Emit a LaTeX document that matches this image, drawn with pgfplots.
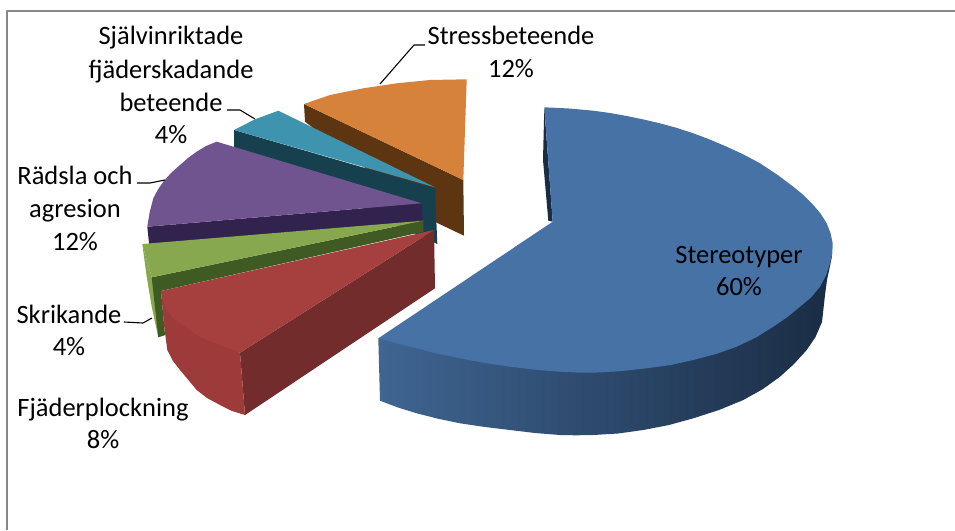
\documentclass[border=0pt]{standalone}
\usepackage{fontspec}
\setmainfont{Carlito}
\usepackage{pgfplots}
\pgfplotsset{compat=1.18}
\definecolor{blueT}{HTML}{4672A6}
\definecolor{blueL}{HTML}{3F6592}
\definecolor{blueM}{HTML}{2B466B}
\definecolor{blueR}{HTML}{1A2C44}
\definecolor{redT}{HTML}{A5403F}
\definecolor{redL}{HTML}{9C3B39}
\definecolor{redD}{HTML}{722C2C}
\definecolor{greenT}{HTML}{87A84E}
\definecolor{greenD}{HTML}{3F5A22}
\definecolor{purT}{HTML}{70548F}
\definecolor{purD}{HTML}{31234D}
\definecolor{tealT}{HTML}{3E94AE}
\definecolor{tealD}{HTML}{17404F}
\definecolor{orT}{HTML}{D6823A}
\definecolor{orD}{HTML}{5E3511}
\definecolor{frameC}{HTML}{868686}
\begin{document}
\begin{tikzpicture}
\begin{axis}[
  scale only axis, width=955pt, height=530pt,
  xmin=0, xmax=955, ymin=0, ymax=530, y dir=reverse,
  axis lines=none, clip=true,
  every axis plot/.append style={draw=none, mark=none, line join=round},
]
% extent of the picture
\addplot[draw=white, opacity=0] coordinates {(0,0) (955,0) (955,530) (0,530) (0,0)};
% frame (left and top edges only are visible in the reference)
\addplot[draw=frameC, line width=2pt] coordinates {(7,530) (7,10.5) (955,10.5)};
% orange
\addplot[fill=orD] coordinates {(304,104) (463.3,180) (464,235.7) (436.7,222.7) (305,121.7)} --cycle;
\addplot[fill=orT] coordinates {(304,104) (330,95) (363.3,88.3) (396.7,83.3) (430,80) (466.7,79.3) (463.3,180)} --cycle;
% teal
\addplot[fill=tealD] coordinates {(234,130) (435,188.3) (437.3,244) (234,147.3)} --cycle;
\addplot[fill=tealT] coordinates {(234,130) (255,119.3) (278.3,110.7) (435,187.3)} --cycle;
% purple
\addplot[fill=purD] coordinates {(147.3,226.7) (421.7,203.3) (423,223) (149.3,246)} --cycle;
\addplot[fill=purT] coordinates {(421.7,203.3) (216.7,141.7) (206,146) (196.7,151.7) (188,158) (180,165) (171,173) (163.3,181.7) (157.7,190) (153.3,198.3) (149.7,212) (147.3,226.7)} --cycle;
% green
\addplot[fill=greenT] coordinates {(151.7,277.3) (142.3,244) (146.7,276.7) (151.7,306.7) (158.3,337.3) (165,335)} --cycle;
\addplot[fill=greenD] coordinates {(151.7,277.3) (423.3,220.7) (423.3,231.7) (161,291) (165,335) (158.3,337.3)} --cycle;
\addplot[fill=greenT] coordinates {(142.3,244) (423.3,220.7) (151.7,277.3)} --cycle;
% red
\addplot[fill=redD] coordinates {(240,352.7) (245,415) (435,288.3) (434,230)} --cycle;
\addplot[fill=redL] coordinates {(161,291) (164,325) (167.3,350) (173,361) (180,370) (196.7,390) (207,398) (220,405) (232,411) (245,415) (240,352.7)} --cycle;
\addplot[fill=redT] coordinates {(434,230) (161,291) (163,301) (166.7,310) (172,317) (180,323.3) (196.7,335) (208,340.5) (220,345) (240,352.7)} --cycle;
% blue
\addplot[left color=blueL, middle color=blueM, right color=blueR] coordinates {(378.3,338.3) (832.7,243.3) (832,256) (830,266) (827,280) (825,295) (822,322) (815.5,337) (806.7,350) (794,364) (780,376.7) (763,389) (743.3,400) (719,410) (693.3,418.3) (669,425) (643.3,430) (618,433.5) (593.3,435) (576,435.3) (560,435) (535,433) (510,430) (485,427) (460,423.3) (438,418.7) (416.7,413.3) (398,407.5) (380,400.7)} --cycle;
\addplot[fill=blueR] coordinates {(544.3,107.3) (543,160) (548.3,220.7) (552.7,221.7)} --cycle;
\addplot[fill=blueT] coordinates {(544.3,107.3) (569,108.5) (593.3,110.7) (610,113) (626.7,116) (643,119.4) (660,123.3) (677,128) (693.3,133.3) (710,139.6) (726.7,146.7) (743.5,154.5) (760,163.3) (777,174.5) (793.3,186.7) (804,195.5) (813.3,205) (820.5,213.5) (826.7,223.3) (830.5,233) (832.7,243.3) (832.3,253.5) (830,263.3) (826,275.5) (820,286.7) (811,297.5) (800,306.7) (787.5,317) (773.3,326.7) (756,337.5) (736.7,346.7) (716,354) (693.3,360) (670.5,365) (646.7,368.3) (620,371.2) (593.3,372.7) (576.5,372.5) (560,371.7) (535,369.7) (510,366.7) (485,363) (460,358.3) (438,353.8) (416.7,348.3) (397.5,343.5) (378.3,338.3) (552.7,221.7)} --cycle;
% leaders
\addplot[draw=black, line width=1.1pt] coordinates {(380,84) (414,45) (425,45)};
\addplot[draw=black, line width=1.1pt] coordinates {(227,110) (240,110) (255,119)};
\addplot[draw=black, line width=1.1pt] coordinates {(137,183) (150,183) (165,180)};
\addplot[draw=black, line width=1.1pt] coordinates {(124,322) (143,323) (152,318)};
% labels
\begin{scope}[every node/.style={anchor=base, inner sep=0pt, font=\fontsize{26.5}{32}\selectfont, text=black}]
\node at (axis cs:739,263) {Stereotyper};
\node at (axis cs:739,295) {60\%};
\node at (axis cs:511,44) {Stressbeteende};
\node at (axis cs:511,77) {12\%};
\node at (axis cs:171,44) {Självinriktade};
\node at (axis cs:171,78) {fjäderskadande};
\node at (axis cs:171,111) {beteende};
\node at (axis cs:171,143) {4\%};
\node at (axis cs:75,184) {Rädsla och};
\node at (axis cs:75,217) {agresion};
\node at (axis cs:75,250) {12\%};
\node at (axis cs:69,323) {Skrikande};
\node at (axis cs:69,355) {4\%};
\node at (axis cs:103,416) {Fjäderplockning};
\node at (axis cs:103,448) {8\%};
\end{scope}
\end{axis}
\end{tikzpicture}
\end{document}
